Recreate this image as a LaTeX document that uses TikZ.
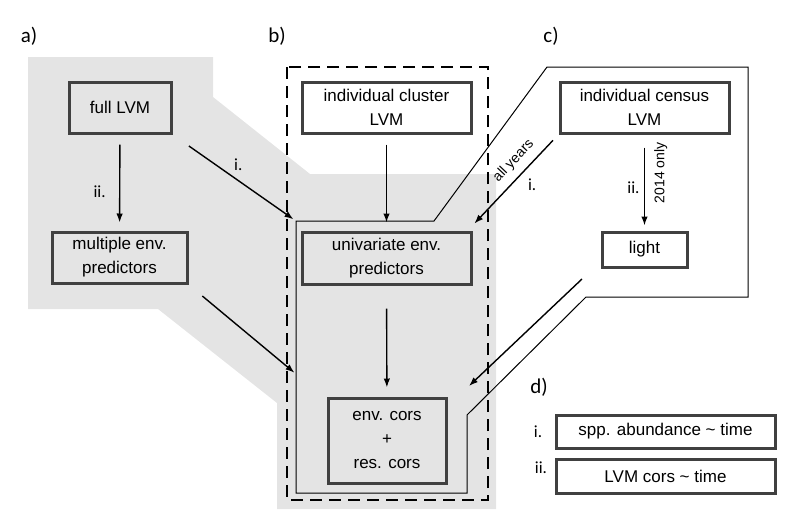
\documentclass[tikz,border=0pt]{standalone}
\usepackage{fontspec}
\setmainfont{Liberation Sans}
\newfontfamily\calfont{Carlito}
\usetikzlibrary{arrows.meta}
\definecolor{boxgray}{HTML}{404040}
\definecolor{panelgray}{HTML}{E4E4E4}
\tikzset{
  box/.style={draw=boxgray, line width=3pt, align=center, inner sep=0pt,
    font=\fontsize{17}{24}\selectfont},
  arr/.style={-{Latex[length=9pt,width=6.5pt]}, line width=1.4pt},
  lab/.style={font=\calfont\fontsize{21}{25}\selectfont},
  num/.style={font=\calfont\fontsize{17}{20}\selectfont},
  small/.style={font=\fontsize{14}{16}\selectfont}
}
\begin{document}
\begin{tikzpicture}[x=1pt,y=-1pt]
  \useasboundingbox (0,0) rectangle (795,525);
  % panel backgrounds
  \fill[panelgray] (28,57) -- (213,57) -- (213,97) -- (310,174) -- (496,174)
    -- (496,509) -- (277,509) -- (277,403) -- (158,309) -- (28,309) -- cycle;
  \draw[line width=1.8pt, dash pattern=on 12pt off 7pt] (287,67) rectangle (488,500);
  \draw[line width=1pt] (547,67) -- (748,67) -- (748,297) -- (586,297)
    -- (467,415) -- (467,493) -- (296,493) -- (296,221) -- (434,221) -- cycle;
  \coordinate (gNW) at (296,221);
  \coordinate (gW) at (296,374);
  \coordinate (gNE) at (473,225);
  \coordinate (cOut) at (582,279);
  \coordinate (cIn) at (469,386);
  % panel labels
  \node[lab] (pa) at (29,36) {a)};
  \node[lab] (pb) at (277,36) {b)};
  \node[lab] (pc) at (551,36) {c)};
  \node[lab] (pd) at (539,387) {d)};
  % boxes
  \node[box, minimum width=102pt, minimum height=51pt] (full) at (120,107.5) {full LVM};
  \node[box, minimum width=135pt, minimum height=51pt] (multi) at (119.5,257.5) {multiple env.\\predictors};
  \node[box, minimum width=169pt, minimum height=51pt] (clust) at (386.5,107.5) {individual cluster\\LVM};
  \node[box, minimum width=169pt, minimum height=52pt] (univ) at (386.5,258) {univariate env.\\predictors};
  \node[box, minimum width=118pt, minimum height=85pt] (cors) at (387,440.5) {env. cors\\+\\res. cors};
  \node[box, minimum width=169pt, minimum height=51pt] (census) at (644.5,107.5) {individual census\\LVM};
  \node[box, minimum width=85pt, minimum height=35pt] (light) at (644.5,249.5) {light};
  \node[box, minimum width=219pt, minimum height=33pt] (legi) at (665.5,431.5) {spp. abundance \textasciitilde{} time};
  \node[box, minimum width=219pt, minimum height=34pt] (legii) at (665.5,476) {LVM cors \textasciitilde{} time};
  \node[num] (ni) at (538,432) {i.};
  \node[num] (nii) at (541,468) {ii.};
  % arrows
  \draw (full) edge[arr, shorten <=10pt, shorten >=8pt] node [num, left=10pt, pos=.6] {ii.} (multi);
  \draw (full.south east) edge[arr, shorten <=20pt, shorten >=3pt] node [num, above=3pt, xshift=4pt] {i.} (gNW);
  \draw (multi.south east) edge[arr, shorten <=18pt, shorten >=2pt] (gW);
  \draw (clust) edge[arr, shorten <=10pt, shorten >=8pt] (univ);
  \draw (univ) edge[arr, shorten <=23pt, shorten >=9pt] (cors);
  \draw (census.south west) edge[arr, shorten <=8pt, shorten >=2pt]
    node [small, sloped, above=4pt, pos=.4] {all years}
    node [num, below right, pos=.45, xshift=4pt] {i.} (gNE);
  \draw (census) edge[arr, shorten <=13pt, shorten >=5pt]
    node [num, left=1pt, pos=.55] {ii.}
    node [small, rotate=90, anchor=north, inner ysep=9pt, pos=.4] {2014 only} (light);
  \draw[arr] (cOut) -- (cIn);
\end{tikzpicture}
\end{document}
